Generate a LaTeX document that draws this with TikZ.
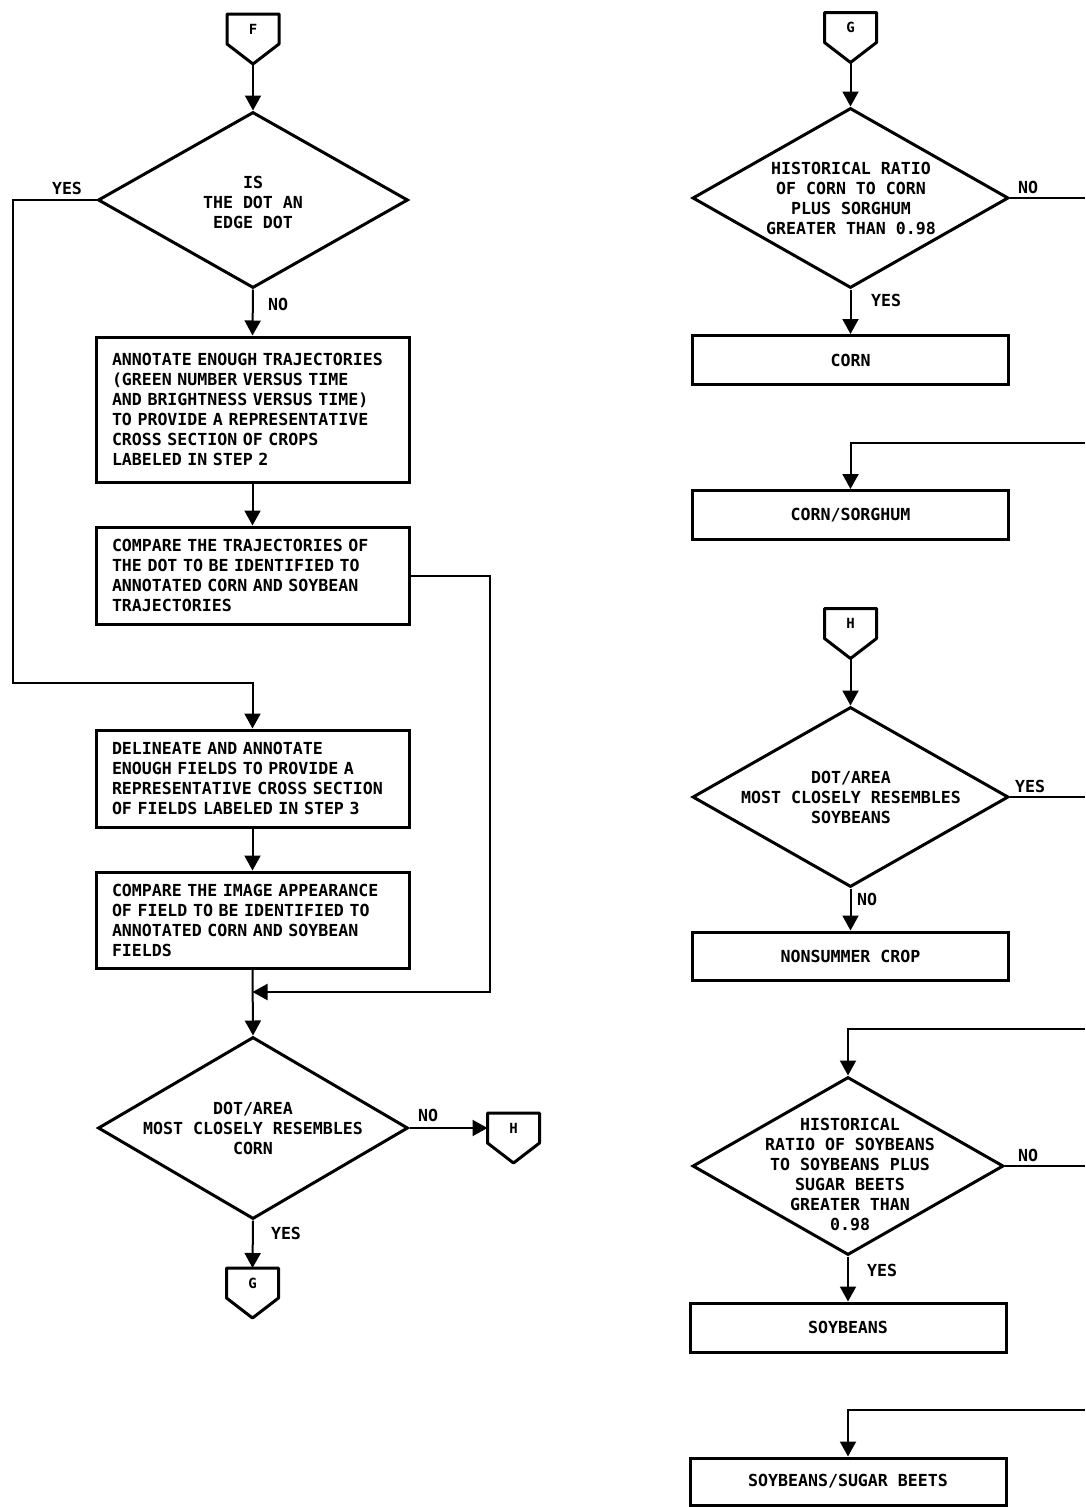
\documentclass[tikz,border=0pt]{standalone}
\usepackage{fontspec}
\usepackage{tikz}
\usetikzlibrary{shapes.geometric, arrows.meta, calc}
\newfontfamily\chartfont{DejaVu Sans Mono}

\begin{document}
\begin{tikzpicture}[x=1pt, y=-1pt,
  every node/.style={font=\chartfont\bfseries\fontsize{16.6}{20}\selectfont},
  stepbox/.style={draw, line width=3pt, minimum width=313pt, text width=281pt, inner xsep=16pt, align=left},
  result/.style={draw, line width=3pt, minimum width=316pt, minimum height=49pt, align=center},
  decision/.style={draw, diamond, line width=3pt, inner sep=0pt},
  offpage/.style={minimum width=52pt, minimum height=30pt, inner sep=0pt, outer sep=0pt,
    font=\chartfont\bfseries\fontsize{14}{16}\selectfont},
  flow/.style={line width=2pt, -{Triangle[length=15pt, width=16pt]}},
  wire/.style={line width=2pt},
  border/.style={line width=3pt, line join=round}]

  \useasboundingbox (0,0) rectangle (1085,1507);

  % Connector F
  \node [offpage] (F) at (253,29) {F};
  \draw [border] (F.north west) -- (F.north east) -- (F.south east)
    -- ($(F.south)+(0,20)$) coordinate (F tip) -- (F.south west) -- cycle;

  % Edge dot test
  \node [decision, minimum width=310pt, minimum height=176pt] (D1) at (253,200) {};
  \node [align=center] (D1 text) at (253,202) {IS\\THE DOT AN\\EDGE DOT};
  \draw [flow] (F tip) -- (D1.north);
  \node (yes1) at (67,188) {YES};
  \node (no1) at (278,304) {NO};

  % Trajectory steps
  \node [stepbox, minimum height=145pt] (B1) at (252.5,409.5)
    {ANNOTATE ENOUGH TRAJECTORIES\\(GREEN NUMBER VERSUS TIME\\AND BRIGHTNESS VERSUS TIME)\\TO PROVIDE A REPRESENTATIVE\\CROSS SECTION OF CROPS\\LABELED IN STEP 2};
  \node [stepbox, minimum height=97pt] (B2) at (252.5,575.5)
    {COMPARE THE TRAJECTORIES OF\\THE DOT TO BE IDENTIFIED TO\\ANNOTATED CORN AND SOYBEAN\\TRAJECTORIES};
  \draw [flow] (D1.south) -- (B1.north);
  \draw [flow] (B1.south) -- (B2.north);

  % Field steps
  \node [stepbox, minimum height=97pt] (B3) at (252.5,778.5)
    {DELINEATE AND ANNOTATE\\ENOUGH FIELDS TO PROVIDE A\\REPRESENTATIVE CROSS SECTION\\OF FIELDS LABELED IN STEP 3};
  \node [stepbox, minimum height=96pt] (B4) at (252.5,920)
    {COMPARE THE IMAGE APPEARANCE\\OF FIELD TO BE IDENTIFIED TO\\ANNOTATED CORN AND SOYBEAN\\FIELDS};
  \coordinate (edge turn) at (13,683);
  \draw [flow] (D1.west) -| (edge turn) -| (B3.north);
  \draw [flow] (B3.south) -- (B4.north);

  % Corn test
  \node [decision, minimum width=310pt, minimum height=182pt] (D2) at (253,1128) {};
  \node [align=center] (D2 text) at (253,1128) {DOT/AREA\\MOST CLOSELY RESEMBLES\\CORN};
  \coordinate (loop turn) at (490,992);
  \coordinate (merge) at (252.5,992);
  \draw [flow] (B2.east) -| (loop turn) -- (merge);
  \draw [flow] (B4.south) -- (D2.north);
  \node (no2) at (428,1115) {NO};
  \node (yes2) at (286,1233) {YES};

  % Connectors H and G
  \node [offpage] (H1) at (513.5,1128) {H};
  \draw [border] (H1.north west) -- (H1.north east) -- (H1.south east)
    -- ($(H1.south)+(0,20)$) -- (H1.south west) -- cycle;
  \node [offpage] (G1) at (252.5,1283) {G};
  \draw [border] (G1.north west) -- (G1.north east) -- (G1.south east)
    -- ($(G1.south)+(0,20)$) -- (G1.south west) -- cycle;
  \draw [flow] (D2.east) -- (H1.west);
  \draw [flow] (D2.south) -- (G1.north);

  % Connector G
  \node [offpage] (G2) at (850.5,27.5) {G};
  \draw [border] (G2.north west) -- (G2.north east) -- (G2.south east)
    -- ($(G2.south)+(0,20)$) coordinate (G2 tip) -- (G2.south west) -- cycle;

  % Corn ratio test
  \node [decision, minimum width=316pt, minimum height=180pt] (D3) at (850.5,198) {};
  \node [align=center] (D3 text) at (851,198)
    {HISTORICAL RATIO\\OF CORN TO CORN\\PLUS SORGHUM\\GREATER THAN 0.98};
  \draw [flow] (G2 tip) -- (D3.north);
  \coordinate (D3 out) at (1085,198);
  \draw [wire] (D3.east) -- (D3 out);
  \node (no3) at (1028,187) {NO};
  \node (yes3) at (886,300) {YES};
  \node [result] (corn) at (850.5,360) {CORN};
  \draw [flow] (D3.south) -- (corn.north);

  % Corn/sorghum
  \coordinate (cs in) at (1085,443);
  \node [result] (cornsorg) at (850.5,515) {CORN/SORGHUM};
  \draw [flow] (cs in) -| (cornsorg.north);

  % Connector H
  \node [offpage] (H2) at (850.5,623.5) {H};
  \draw [border] (H2.north west) -- (H2.north east) -- (H2.south east)
    -- ($(H2.south)+(0,20)$) coordinate (H2 tip) -- (H2.south west) -- cycle;

  % Soybean test
  \node [decision, minimum width=316pt, minimum height=180pt] (D4) at (850.5,797) {};
  \node [align=center] (D4 text) at (851,797) {DOT/AREA\\MOST CLOSELY RESEMBLES\\SOYBEANS};
  \draw [flow] (H2 tip) -- (D4.north);
  \coordinate (D4 out) at (1085,797);
  \draw [wire] (D4.east) -- (D4 out);
  \node (yes4) at (1030,786) {YES};
  \node (no4) at (867,899) {NO};
  \node [result, minimum height=48pt] (nonsummer) at (850.5,956) {NONSUMMER CROP};
  \draw [flow] (D4.south) -- (nonsummer.north);

  % Soybean ratio test
  \coordinate (sb in) at (1085,1029);
  \node [decision, minimum width=311pt, minimum height=178pt] (D5) at (848,1166) {};
  \node [align=center] (D5 text) at (850,1174)
    {HISTORICAL\\RATIO OF SOYBEANS\\TO SOYBEANS PLUS\\SUGAR BEETS\\GREATER THAN\\0.98};
  \draw [flow] (sb in) -| (D5.north);
  \coordinate (D5 out) at (1085,1166);
  \draw [wire] (D5.east) -- (D5 out);
  \node (no5) at (1028,1155) {NO};
  \node (yes5) at (882,1270) {YES};
  \node [result] (soy) at (848,1327.5) {SOYBEANS};
  \draw [flow] (D5.south) -- (soy.north);

  % Soybeans/sugar beets
  \coordinate (ssb in) at (1085,1410);
  \node [result, minimum height=47pt] (soybeet) at (848,1481.5) {SOYBEANS/SUGAR BEETS};
  \draw [flow] (ssb in) -| (soybeet.north);

\end{tikzpicture}
\end{document}
